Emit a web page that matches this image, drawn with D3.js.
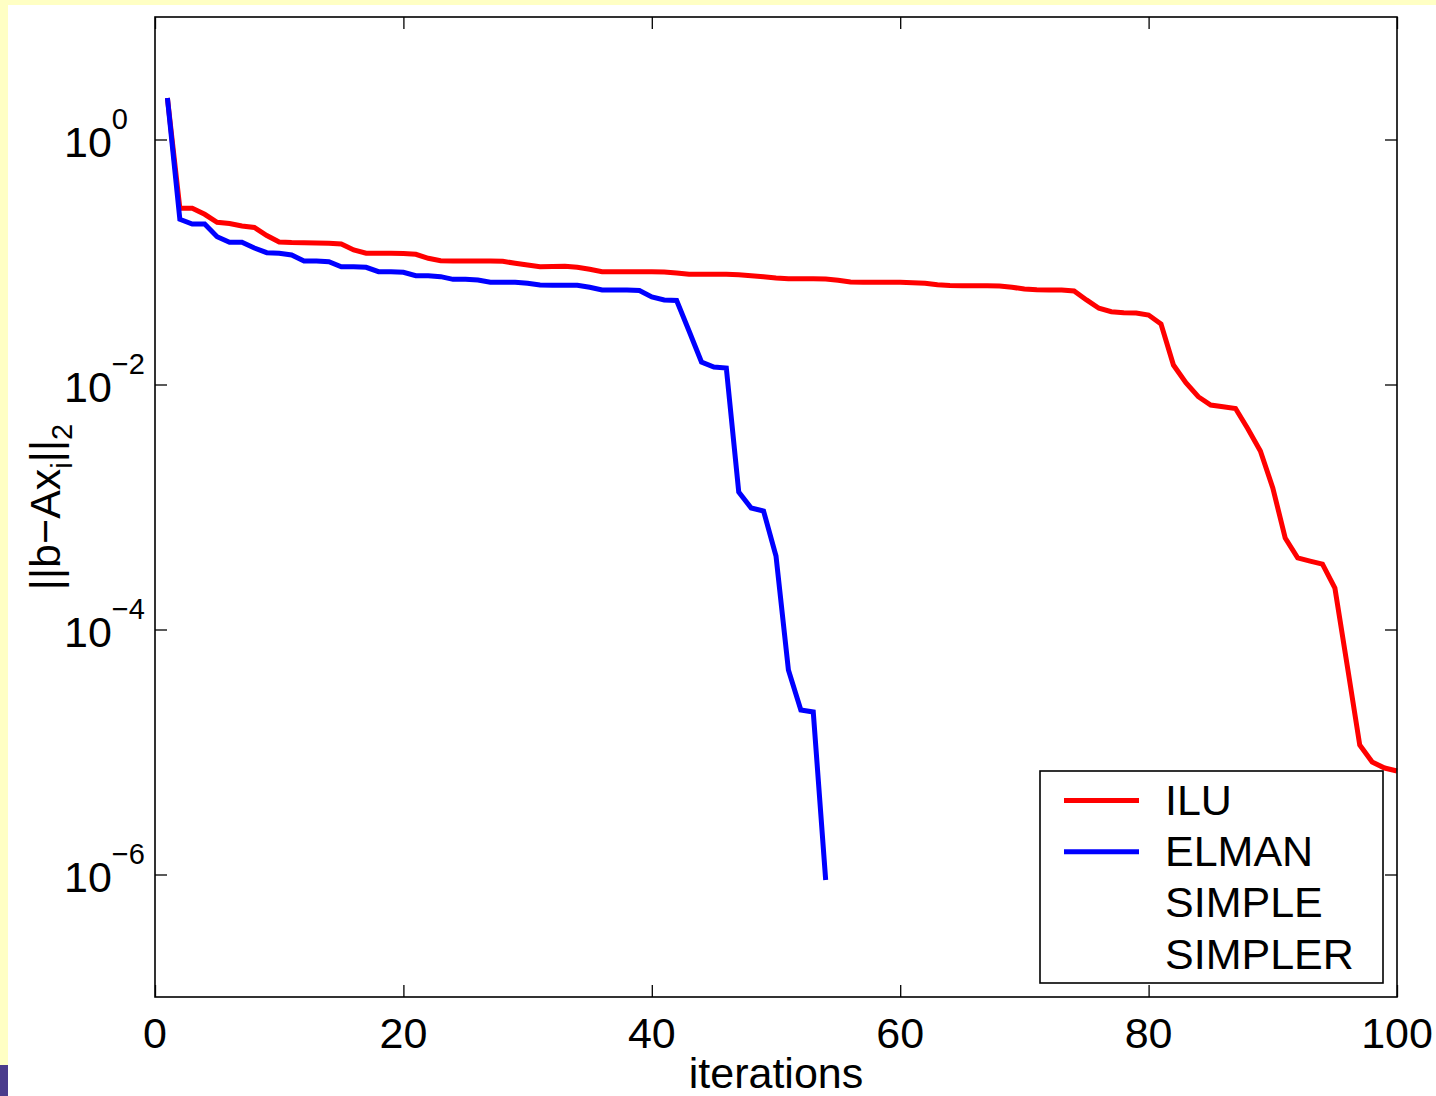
<!DOCTYPE html>
<html>
<head>
<meta charset="utf-8">
<script src="https://cdn.jsdelivr.net/npm/d3@7"></script>
<style>
  html, body { margin: 0; padding: 0; background: #ffffff; }
  svg { display: block; }
  text { font-family: "Liberation Sans", Arial, Helvetica, sans-serif; fill: #000; }
</style>
</head>
<body>
<svg id="chart" width="1436" height="1096"></svg>
<script>
// Residual norm per iteration for each preconditioner
const iluResidual = [
  2.182, 0.2745, 0.2745, 0.2451, 0.2109, 0.2062, 0.1967, 0.1912, 0.1645, 0.1456,
  0.1442, 0.1437, 0.1429, 0.1421, 0.1402, 0.1253, 0.1178, 0.1178, 0.1178, 0.1173,
  0.1156, 0.1072, 0.1025, 0.1019, 0.1019, 0.1019, 0.1019, 0.1013, 0.0976, 0.0945,
  0.0915, 0.0919, 0.0922, 0.0905, 0.0872, 0.0833, 0.0833, 0.0833, 0.0833, 0.0833,
  0.0829, 0.0813, 0.0794, 0.0794, 0.0794, 0.0794, 0.0788, 0.0773, 0.0759, 0.0740,
  0.0731, 0.0731, 0.0731, 0.0726, 0.0709, 0.0687, 0.0683, 0.0683, 0.0683, 0.0683,
  0.0678, 0.0670, 0.0653, 0.0643, 0.0640, 0.0640, 0.0640, 0.0637, 0.0622, 0.0602,
  0.0594, 0.0591, 0.0591, 0.0580, 0.0490, 0.0419, 0.0393, 0.0386, 0.0383, 0.0369,
  0.0312, 0.01442, 0.01034, 0.00795, 0.00680, 0.00659, 0.00637, 0.00433, 0.00287, 0.00143,
  5.58e-4, 3.84e-4, 3.62e-4, 3.42e-4, 2.18e-4, 5.03e-5, 1.14e-5, 8.29e-6, 7.40e-6, 7.00e-6
];
const elmanResidual = [
  2.182, 0.2232, 0.2043, 0.2043, 0.1609, 0.1448, 0.1448, 0.1301, 0.1191, 0.1178,
  0.1141, 0.1019, 0.1019, 0.1006, 0.0915, 0.0915, 0.0905, 0.0833, 0.0833, 0.0824,
  0.0773, 0.0773, 0.0759, 0.0722, 0.0722, 0.0713, 0.0683, 0.0683, 0.0683, 0.0670,
  0.0649, 0.0645, 0.0645, 0.0645, 0.0622, 0.0591, 0.0591, 0.0591, 0.0585, 0.0518,
  0.0490, 0.0485, 0.02734, 0.01527, 0.01390, 0.01364, 1.326e-3, 9.81e-4, 9.28e-4, 3.98e-4,
  4.67e-5, 2.20e-5, 2.12e-5, 9.02e-7
];
const simpleResidual = [];
const simplerResidual = [];

const seriesNames = ["ILU", "ELMAN", "SIMPLE", "SIMPLER"];
const seriesColors = ["#ff0000", "#0000ff", "none", "none"];

const xTicks = [0, 20, 40, 60, 80, 100];
const yTicks = [1e0, 1e-2, 1e-4, 1e-6];
const yTickExponents = ["0", "\u22122", "\u22124", "\u22126"];

const xTitle = "iterations";

const svg = d3.select("#chart");
const W = 1436, H = 1096;
const plot = { left: 155, right: 1397, top: 17, bottom: 997 };
const FONT = 43, SUB = 29;

// page frame
svg.append("rect").attr("x", 0).attr("y", 0).attr("width", W).attr("height", H).attr("fill", "#ffffff");
svg.append("rect").attr("x", 0).attr("y", 0).attr("width", W).attr("height", 5).attr("fill", "#ffffc4");
svg.append("rect").attr("x", 0).attr("y", 0).attr("width", 8).attr("height", 1065).attr("fill", "#ffffc4");
svg.append("rect").attr("x", 0).attr("y", 1065).attr("width", 8).attr("height", H - 1065).attr("fill", "#4a3c8c");

const x = d3.scaleLinear().domain([0, 100]).range([plot.left, plot.right]);
const y = d3.scaleLog().domain([1e-7, 1e1]).range([plot.bottom, plot.top]);

// inward ticks on all four sides
const tick = 12;
function styleAxis(g) {
  g.select(".domain").remove();
  g.selectAll(".tick line").attr("stroke", "#000").attr("stroke-width", 1.3);
  g.selectAll(".tick text").remove();
}
svg.append("g").attr("transform", `translate(0,${plot.bottom})`)
  .call(d3.axisBottom(x).tickValues(xTicks).tickSize(-tick).tickFormat("")).call(styleAxis);
svg.append("g").attr("transform", `translate(0,${plot.top})`)
  .call(d3.axisTop(x).tickValues(xTicks).tickSize(-tick).tickFormat("")).call(styleAxis);
svg.append("g").attr("transform", `translate(${plot.left},0)`)
  .call(d3.axisLeft(y).tickValues(yTicks).tickSize(-tick).tickFormat("")).call(styleAxis);
svg.append("g").attr("transform", `translate(${plot.right},0)`)
  .call(d3.axisRight(y).tickValues(yTicks).tickSize(-tick).tickFormat("")).call(styleAxis);

// x tick labels
svg.append("g").selectAll("text").data(xTicks).join("text")
  .attr("x", d => x(d)).attr("y", plot.bottom + 51)
  .attr("text-anchor", "middle").attr("font-size", FONT)
  .text(d => d);

// y tick labels as 10^k
const yl = svg.append("g").selectAll("text").data(yTicks).join("text")
  .attr("x", 64).attr("y", d => y(d) + 17.5).attr("font-size", FONT);
yl.append("tspan").text("10");
yl.append("tspan").attr("font-size", SUB).attr("dy", -28).text((d, i) => yTickExponents[i]);

// axis titles
svg.append("text").attr("x", (plot.left + plot.right) / 2).attr("y", 1088)
  .attr("text-anchor", "middle").attr("font-size", FONT).text(xTitle);

const yt = svg.append("text")
  .attr("transform", `translate(60,${(plot.top + plot.bottom) / 2}) rotate(-90)`)
  .attr("text-anchor", "middle").attr("font-size", FONT);
yt.append("tspan").text("||b\u2212Ax");
yt.append("tspan").attr("font-size", SUB).attr("dy", 12).text("i");
yt.append("tspan").attr("dy", -12).text("||");
yt.append("tspan").attr("font-size", SUB).attr("dy", 12).text("2");

// series lines
const line = d3.line().x((d, i) => x(i + 1)).y(d => y(d));
const allSeries = [iluResidual, elmanResidual, simpleResidual, simplerResidual];
svg.append("g").selectAll("path").data(allSeries).join("path")
  .attr("d", d => d.length ? line(d) : null)
  .attr("fill", "none")
  .attr("stroke", (d, i) => seriesColors[i])
  .attr("stroke-width", 5)
  .attr("stroke-linejoin", "miter");

// plot box
svg.append("rect")
  .attr("x", plot.left).attr("y", plot.top)
  .attr("width", plot.right - plot.left).attr("height", plot.bottom - plot.top)
  .attr("fill", "none").attr("stroke", "#000").attr("stroke-width", 1.6);

// legend
const lg = svg.append("g");
lg.append("rect").attr("x", 1040).attr("y", 771).attr("width", 343).attr("height", 212)
  .attr("fill", "#ffffff").attr("stroke", "#000").attr("stroke-width", 1.6);
const rows = lg.selectAll("g.row").data(seriesNames).join("g").attr("class", "row")
  .attr("transform", (d, i) => `translate(0,${815 + i * 51.2})`);
rows.append("line").attr("x1", 1064).attr("x2", 1139).attr("y1", -14.5).attr("y2", -14.5)
  .attr("stroke", (d, i) => seriesColors[i]).attr("stroke-width", 5);
rows.append("text").attr("x", 1165).attr("y", 0).attr("font-size", FONT).text(d => d);
</script>
</body>
</html>
